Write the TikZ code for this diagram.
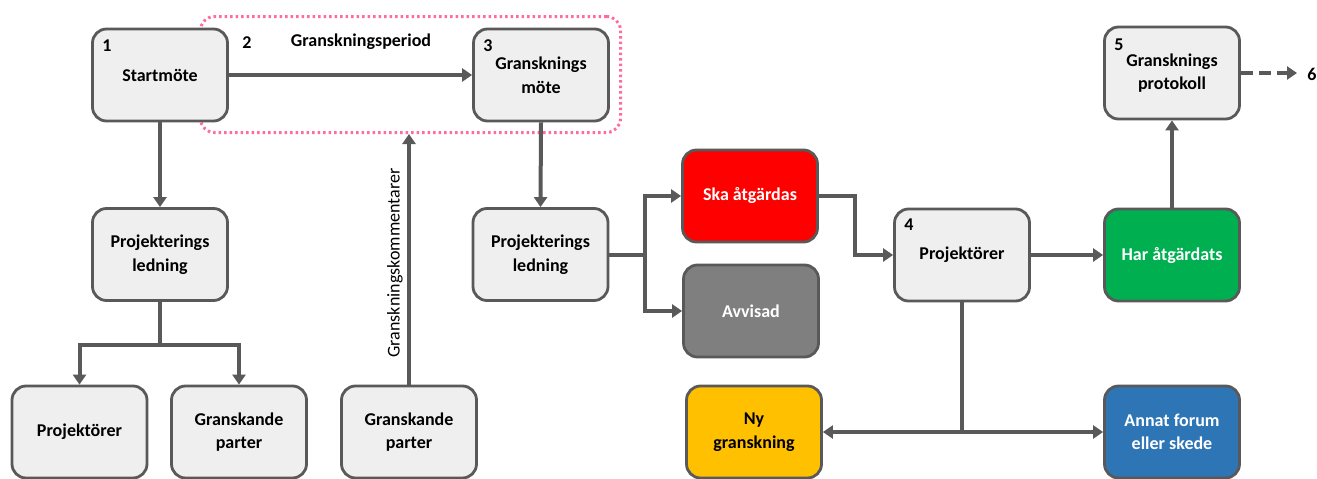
\documentclass[tikz,border=0pt]{standalone}
\usepackage{fontspec}
\setmainfont{Carlito}
\usetikzlibrary{arrows.meta,calc}
\definecolor{bord}{HTML}{595959}
\definecolor{boxfill}{HTML}{EFEFEF}
\definecolor{redfill}{HTML}{FF0000}
\definecolor{grayfill}{HTML}{7F7F7F}
\definecolor{greenfill}{HTML}{00B050}
\definecolor{yellowfill}{HTML}{FFC000}
\definecolor{bluefill}{HTML}{2E75B6}
\definecolor{pinkdot}{HTML}{FF6C9B}
\tikzset{
  box/.style={draw=bord, line width=2.8pt, fill=boxfill, rounded corners=14pt,
    minimum width=135pt, minimum height=92pt, align=center,
    font=\fontsize{18}{23.5}\selectfont\bfseries, inner sep=0pt},
  num/.style={font=\fontsize{18}{22}\selectfont\bfseries, inner sep=0pt},
  conn/.style={draw=bord, line width=4pt},
  arr/.style={conn, -{Triangle[length=10pt,width=13pt]}},
}
\begin{document}
\begin{tikzpicture}[x=1pt,y=-1pt]
\useasboundingbox (0,0) rectangle (1317,479);
% dotted period frame
\node[draw=pinkdot, line width=3pt, dash pattern=on 2.5pt off 3pt, rounded corners=14pt,
  minimum width=420pt, minimum height=116pt, inner sep=0pt] (period) at (410.5,74.5) {};
% boxes
\node[box] (start) at (160,75) {Startmöte};
\node[box] (gmote) at (541,75) {Gransknings\\möte};
\node[box] (pl1) at (160,254.5) {Projekterings\\ledning};
\node[box] (proj1) at (79.5,432) {Projektörer};
\node[box] (gp1) at (239,432) {Granskande\\parter};
\node[box] (gp2) at (409,432) {Granskande\\parter};
\node[box] (pl2) at (540.5,254.5) {Projekterings\\ledning};
\node[box, fill=redfill, text=white] (ska) at (750,196) {Ska åtgärdas};
\node[box, fill=grayfill, text=white] (avv) at (751,311) {Avvisad};
\node[box] (proj4) at (962,255) {Projektörer};
\node[box, fill=greenfill, text=white] (har) at (1172,255) {Har åtgärdats};
\node[box] (prot) at (1172,73) {Gransknings\\protokoll};
\node[box, fill=yellowfill] (ny) at (754,432) {Ny\\granskning};
\node[box, fill=bluefill, text=white] (annat) at (1172,432) {Annat forum\\eller skede};
% numbers and labels
\node[num] (n1) at (107,46) {1};
\node[num] (n2) at (247,43) {2};
\node[num] (lperiod) at (361,42) {Granskningsperiod};
\node[num] (n3) at (488,46) {3};
\node[num] (n4) at (909,225) {4};
\node[num] (n5) at (1119,45) {5};
\node[num] (n6) at (1312,74) {6};
\node[font=\fontsize{18}{22}\selectfont, rotate=90, inner sep=0pt] (lkom) at (395,263) {Granskningskommentarer};
% connectors
\draw[arr] (start.east) -- (gmote.west);
\draw[arr] (start.south) -- (pl1.north);
\coordinate (j1) at (160,345);
\draw[conn] (pl1.south) -- (j1);
\draw[arr] (j1) -| (proj1.north);
\draw[arr] (j1) -| (gp1.north);
\draw[arr] (gp2.north) -- (gp2.north |- period.south);
\draw[arr] (gmote.south) -- (pl2.north);
\coordinate (j2) at (645,254.5);
\draw[conn] (pl2.east) -- (j2);
\draw[arr] (j2) |- (ska.west);
\draw[arr] (j2) |- (avv.west);
\coordinate (j3) at (855,196);
\draw[arr] (ska.east) -- (j3) |- (proj4.west);
\draw[arr] (proj4.east) -- (har.west);
\draw[arr] (har.north) -- (prot.south);
\coordinate (c6) at (1297,73);
\draw[arr, dash pattern=on 12pt off 6pt] (prot.east) -- (c6);
\coordinate (j4) at (962,432);
\draw[conn] (proj4.south) -- (j4);
\draw[arr] (j4) -- (ny.east);
\draw[arr] (j4) -- (annat.west);
\end{tikzpicture}
\end{document}
